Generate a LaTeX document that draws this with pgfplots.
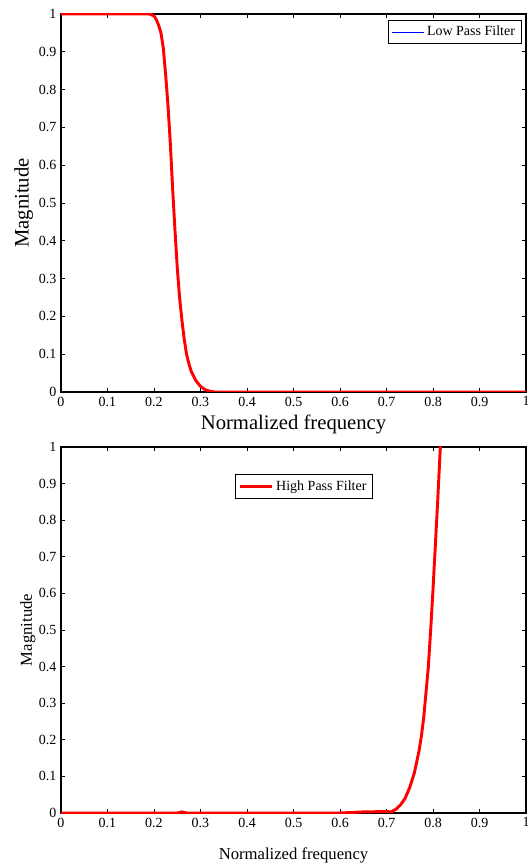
\documentclass[border=0pt]{standalone}
\usepackage{fontspec}
\setmainfont{Liberation Serif}
\usepackage{pgfplots}
\pgfplotsset{compat=1.18}

% low pass response
\newcommand{\lowpass}{
(0,1) (0.19,1) (0.2,0.995) (0.205,0.985) (0.21,0.97) (0.215,0.95)
(0.22,0.91) (0.225,0.84) (0.23,0.76) (0.235,0.66) (0.24,0.54)
(0.245,0.43) (0.25,0.33) (0.255,0.25) (0.26,0.19) (0.265,0.14)
(0.27,0.10) (0.275,0.075) (0.28,0.055) (0.29,0.03) (0.30,0.015)
(0.31,0.006) (0.32,0.002) (0.33,0) (0.4,0) (1,0)}
% high pass response
\newcommand{\highpass}{
(0,0) (0.25,0) (0.26,0.003) (0.27,0) (0.6,0) (0.65,0.003) (0.70,0.004)
(0.71,0.003) (0.72,0.01) (0.73,0.022) (0.74,0.04) (0.75,0.07)
(0.76,0.11) (0.765,0.14) (0.77,0.17) (0.775,0.21) (0.78,0.26)
(0.785,0.33) (0.79,0.40) (0.795,0.50) (0.80,0.61) (0.805,0.73)
(0.81,0.85) (0.815,0.98) (0.82,1.1)}

\pgfplotsset{
  mat/.style={
    scale only axis,
    width=348.75pt,
    xmin=0, xmax=1, ymin=0, ymax=1,
    xtick={0,0.1,...,1}, ytick={0,0.1,...,1},
    tick align=inside,
    major tick length=3pt,
    axis line style={line width=0.8pt},
    tick style={black, line width=0.6pt},
    /pgf/number format/assume math mode=true,
    ticklabel style={font=\fontsize{10.5}{11}\selectfont},
    legend cell align=left,
    legend image code/.code={\draw[##1] (0pt,0pt) -- (24pt,0pt);},
    legend style={draw=black, line width=0.6pt, inner sep=2.5pt,
      font=\fontsize{10.5}{12}\selectfont},
  }
}

\begin{document}
\begin{tikzpicture}
\begin{axis}[mat,
  at={(45.75pt,354.75pt)}, anchor=south west,
  height=283.5pt,
  xlabel={Normalized frequency}, ylabel={Magnitude},
  label style={font=\fontsize{15.5}{17}\selectfont},
  xlabel style={at={(axis description cs:0.5,-0.085)}, anchor=center},
  ylabel style={at={(axis description cs:-0.08,0.5)}, anchor=center},
  legend style={at={(rel axis cs:0.99,0.985)}, anchor=north east},
]
\addlegendimage{draw=blue, line width=0.6pt}
\addlegendentry{Low Pass Filter}
\addplot[red, line width=2.2pt, forget plot] coordinates {\lowpass};
\end{axis}

\begin{axis}[mat,
  at={(45.75pt,39pt)}, anchor=south west,
  height=274.5pt,
  xlabel={Normalized frequency}, ylabel={Magnitude},
  label style={font=\fontsize{12.5}{14}\selectfont},
  xlabel style={at={(axis description cs:0.5,-0.115)}, anchor=center},
  ylabel style={at={(axis description cs:-0.071,0.5)}, anchor=center},
  legend style={at={(rel axis cs:0.374,0.926)}, anchor=north west},
]
\addplot[red, line width=2.2pt] coordinates {\highpass};
\addlegendentry{High Pass Filter}
\end{axis}
\pgfresetboundingbox
\path (0,0) rectangle (396pt,648.75pt);
\end{tikzpicture}
\end{document}
